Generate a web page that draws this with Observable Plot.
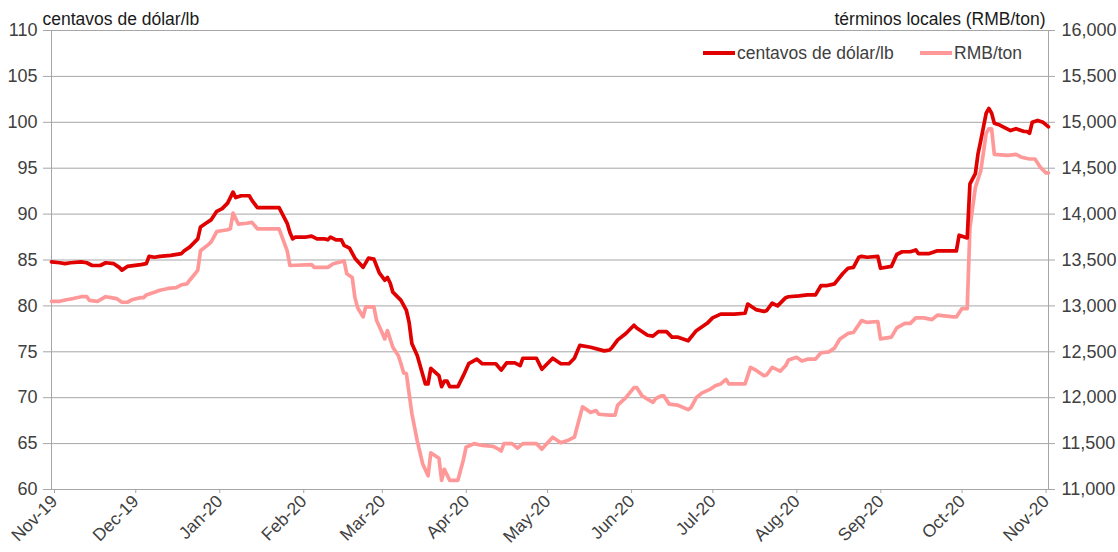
<!DOCTYPE html>
<html><head><meta charset="utf-8">
<script src="https://cdn.jsdelivr.net/npm/d3@7"></script>
<script src="https://cdn.jsdelivr.net/npm/@observablehq/plot@0.6"></script>
<style>
body{margin:0;background:#fff;font-family:"Liberation Sans",Arial,sans-serif;}
#wrap{position:relative;width:1118px;height:552px;}
.leg{position:absolute;top:43px;font-size:17.5px;color:#404040;display:flex;align-items:center;height:20px;white-space:nowrap;}
.sw{display:inline-block;width:32px;height:4px;margin-right:2px;}
</style></head><body><div id="wrap"></div>
<script>
// Dates are given as days since 1 Nov 2019
const startDate = [2019, 10, 1];
const endDay = 368;

// Copper price, US cents per lb
const usDays = [0,3,5,7,11,13,15,18,20,23,25,26,28,33,35,36,38,40,44,48,49,51,53,54,55,57,59,61,63,65,67,68,70,73,74,76,84,87,88,89,90,94,96,98,101,102,103,105,107,108,110,112,115,117,119,121,123,124,125,126,129,131,132,133,135,138,139,140,143,144,145,146,147,150,152,154,157,159,162,164,166,168,171,173,174,179,181,183,185,188,191,193,195,199,204,206,207,209,212,215,216,220,222,224,227,229,231,235,238,242,244,247,252,256,257,260,263,264,266,268,271,272,276,279,282,284,286,289,292,294,296,298,299,301,305,306,310,312,314,317,319,320,324,327,334,335,338,339,341,342,343,345,346,347,348,350,354,356,359,360,361,362,364,366,368];
const usCents = [84.8,84.7,84.6,84.7,84.8,84.7,84.4,84.4,84.7,84.6,84.2,83.9,84.3,84.5,84.6,85.4,85.3,85.4,85.5,85.7,86.0,86.4,87.0,87.3,88.6,89.0,89.4,90.3,90.6,91.2,92.4,91.8,92.0,92.0,91.5,90.7,90.7,89.0,88.0,87.3,87.5,87.5,87.6,87.3,87.3,87.2,87.5,87.2,87.2,86.6,86.3,85.2,84.2,85.2,85.1,83.6,82.8,83.1,82.5,81.5,80.6,79.5,78.2,75.9,74.6,71.5,71.5,73.2,72.4,71.2,71.8,71.8,71.2,71.2,72.4,73.7,74.2,73.7,73.7,73.7,73.0,73.8,73.8,73.5,74.3,74.3,73.1,73.7,74.3,73.7,73.7,74.3,75.7,75.5,75.1,75.2,75.5,76.3,77.0,77.9,77.6,76.8,76.7,77.2,77.2,76.6,76.6,76.2,77.3,78.1,78.7,79.1,79.1,79.2,80.2,79.6,79.4,79.5,80.3,80.0,80.9,81.0,81.1,81.2,81.2,82.2,82.2,82.4,83.5,84.1,84.2,85.3,85.4,85.3,85.4,84.1,84.3,85.6,85.9,85.9,86.1,85.7,85.7,86.0,86.0,87.7,87.4,93.3,94.4,96.6,98.0,101.0,101.5,101.0,99.9,99.7,99.1,99.3,99.0,99.0,98.8,100.0,100.2,100.0,99.5];

// Copper price in local terms, RMB per ton
const rmbDays = [0,3,6,8,11,13,14,17,20,22,24,26,28,30,33,34,35,38,40,43,46,48,50,51,53,54,55,58,59,61,65,66,67,69,72,74,76,84,87,88,96,97,102,104,108,109,111,112,113,115,116,119,120,122,123,124,126,128,129,130,131,133,135,137,139,140,143,144,145,147,150,152,153,156,159,163,165,166,167,170,172,174,179,181,185,188,191,193,196,199,201,202,206,208,209,212,215,216,218,222,223,225,226,228,231,235,236,238,240,243,245,247,249,250,256,258,260,263,264,266,269,271,272,275,277,279,282,284,287,289,291,294,296,299,301,305,306,310,312,315,317,319,322,325,327,333,334,336,338,339,341,343,345,346,347,348,353,356,358,361,363,365,367,368];
const rmbTon = [13050,13050,13070,13080,13100,13100,13060,13050,13100,13090,13080,13040,13040,13070,13090,13090,13120,13150,13170,13190,13200,13230,13240,13280,13350,13390,13600,13670,13700,13810,13830,13840,14010,13890,13900,13910,13840,13840,13600,13440,13450,13420,13420,13460,13490,13350,13310,13090,12980,12880,12990,12990,12840,12710,12640,12730,12550,12460,12370,12270,12260,11830,11530,11280,11150,11400,11340,11100,11220,11100,11100,11320,11460,11500,11480,11470,11440,11420,11500,11500,11450,11500,11500,11440,11570,11510,11540,11570,11900,11840,11860,11820,11810,11810,11920,12000,12110,12110,12020,11950,11990,12020,12020,11930,11920,11870,11890,12000,12050,12090,12130,12150,12200,12150,12150,12330,12300,12240,12250,12330,12290,12350,12410,12440,12400,12420,12420,12490,12500,12540,12640,12700,12710,12840,12820,12830,12640,12660,12760,12810,12810,12870,12870,12850,12900,12880,12880,12970,12970,13850,14290,14470,14880,14930,14930,14650,14640,14650,14620,14600,14600,14510,14450,14450];

// Axis ticks
const leftTicks = [60,65,70,75,80,85,90,95,100,105,110];
const rightTicks = [11000,11500,12000,12500,13000,13500,14000,14500,15000,15500,16000];
const monthOffsets = [0,1,2,3,4,5,6,7,8,9,10,11,12];

const seriesNames = ["centavos de dólar/lb", "RMB/ton"];
const leftTitle = "centavos de dólar/lb";
const rightTitle = "términos locales (RMB/ton)";

// ---- build ----
const base = new Date(startDate[0], startDate[1], startDate[2]);
const toDate = d => d3.timeDay.offset(base, d);
// map RMB to the left (US cents) scale: 11,000–16,000 ↔ 60–110
const rmbToLeft = r => leftTicks[0] + (r - rightTicks[0]) * (leftTicks[leftTicks.length-1] - leftTicks[0]) / (rightTicks[rightTicks.length-1] - rightTicks[0]);
const usData = usDays.map((d, i) => ({date: toDate(d), v: usCents[i]}));
const rmbData = rmbDays.map((d, i) => ({date: toDate(d), v: rmbToLeft(rmbTon[i])}));
const monthTicks = monthOffsets.map(m => d3.timeMonth.offset(base, m));
const rightLabel = new Map(leftTicks.map((t, i) => [t, d3.format(",")(rightTicks[i])]));

const RED = "#e00000", PINK = "#ff9999";

const chart = Plot.plot({
  width: 1118, height: 552,
  marginLeft: 51, marginRight: 70, marginTop: 30, marginBottom: 63,
  style: {fontFamily: "'Liberation Sans', Arial, sans-serif", fontSize: "18px", background: "white", overflow: "visible"},
  x: {type: "time", domain: [base, toDate(endDay)]},
  y: {domain: [leftTicks[0], leftTicks[leftTicks.length-1]]},
  marks: [
    Plot.gridY(leftTicks, {stroke: "#a6a6a6", strokeOpacity: 1, strokeWidth: 1}),
    Plot.frame({stroke: "#a6a6a6", strokeWidth: 1}),
    Plot.axisY(leftTicks, {anchor: "left", tickSize: 8, tickPadding: 6, stroke: "#a6a6a6", fill: "#404040", label: null, fontSize: 18}),
    Plot.axisY(leftTicks, {anchor: "right", tickSize: 6, tickPadding: 7, stroke: "#a6a6a6", fill: "#404040", label: null, fontSize: 18, tickFormat: t => rightLabel.get(t)}),
    Plot.axisX(monthTicks, {anchor: "bottom", tickSize: 4, tickPadding: 5, tickRotate: -45, dx: 3, stroke: "#a6a6a6", fill: "#404040", label: null, fontSize: 17.5, tickFormat: d3.timeFormat("%b-%y")}),
    Plot.line(rmbData, {x: "date", y: "v", stroke: PINK, strokeWidth: 3.7, strokeLinejoin: "round"}),
    Plot.line(usData, {x: "date", y: "v", stroke: RED, strokeWidth: 3.7, strokeLinejoin: "round"}),
    Plot.text([leftTitle], {frameAnchor: "top-left", textAnchor: "start", lineAnchor: "bottom", dx: -9, dy: -6, fill: "#1a1a1a", fontSize: 17.5}),
    Plot.text([rightTitle], {frameAnchor: "top-right", textAnchor: "end", lineAnchor: "bottom", dx: -3, dy: -6, fill: "#1a1a1a", fontSize: 17.5})
  ]
});
const wrap = document.getElementById("wrap");
wrap.appendChild(chart);

const legPos = [703, 920];
const legCol = [RED, PINK];
seriesNames.forEach((name, i) => {
  const el = document.createElement("div");
  el.className = "leg";
  el.style.left = legPos[i] + "px";
  el.innerHTML = `<span class="sw" style="background:${legCol[i]}"></span><span>${name}</span>`;
  wrap.appendChild(el);
});
</script>
</body></html>
